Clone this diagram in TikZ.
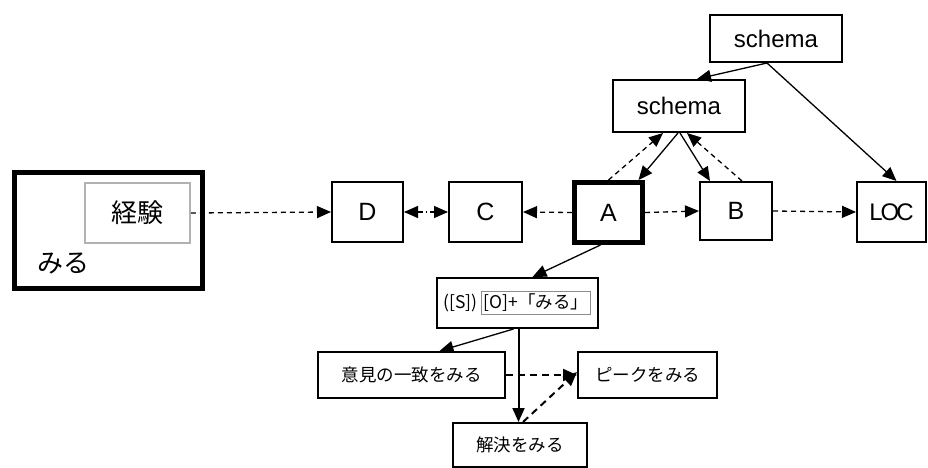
\documentclass[tikz,border=0pt]{standalone}
\usepackage{fontspec}
\setmainfont{Liberation Sans}
\newfontfamily\cjk{Noto Sans CJK JP}
\usetikzlibrary{arrows.meta}
\tikzset{
  box/.style={draw, line width=2pt, rectangle, inner sep=0pt, fill=white},
  thickbox/.style={box, line width=5pt},
  greybox/.style={draw=black!30, line width=1.8pt, rectangle, inner sep=0pt},
  latin/.style={font=\fontsize{25}{28}\selectfont},
  jsmall/.style={font=\cjk\fontsize{17.5}{20}\selectfont},
  tip/.style={-{Triangle[length=14pt,width=12pt]}},
  solidarrow/.style={tip, line width=1.3pt},
  dasharrow/.style={tip, line width=1.3pt, dash pattern=on 5pt off 4pt},
  dashdotarrow/.style={{Triangle[length=14pt,width=12pt]}-{Triangle[length=14pt,width=12pt]}, line width=1.3pt, dash pattern=on 5pt off 3pt on 1.5pt off 3pt},
  boldarrow/.style={tip, line width=2pt, dash pattern=on 7pt off 5pt},
}
\begin{document}
\begin{tikzpicture}[x=1pt,y=-1pt]
\useasboundingbox (0,0) rectangle (928,468);
% big box
\node[thickbox, minimum width=188pt, minimum height=116pt] (big) at (108.5,230.5) {};
\node[greybox, minimum width=105pt, minimum height=60pt, font=\cjk\fontsize{26}{30}\selectfont] (exp) at (137.5,213) {経験};
\node[font=\cjk\fontsize{26}{30}\selectfont] (miru) at (63,263) {みる};
% middle row
\node[box, latin, minimum width=71pt, minimum height=60pt] (D) at (367.5,212) {D};
\node[box, latin, minimum width=73pt, minimum height=60pt] (C) at (485.5,212) {C};
\node[thickbox, latin, minimum width=68pt, minimum height=60pt] (A) at (608.5,212.5) {A};
\node[box, latin, minimum width=72pt, minimum height=58pt] (B) at (736,211) {B};
\node[box, font=\fontsize{24}{28}\selectfont, minimum width=69pt, minimum height=60pt] (LOC) at (891.5,212) {L\kern-2ptO\kern-3ptC};
% schema
\node[box, font=\fontsize{24}{28}\selectfont, minimum width=132pt, minimum height=47pt] (s1) at (776,38.5) {schema};
\node[box, font=\fontsize{24}{28}\selectfont, minimum width=132pt, minimum height=52pt] (s2) at (679,106) {schema};
% bottom
\node[box, jsmall, minimum width=161pt, minimum height=50pt] (SO) at (517.5,303)
  {([S])\,{\color{black!45}\setlength{\fboxrule}{1.2pt}\setlength{\fboxsep}{2pt}\fbox{\color{black}[O]+「みる」}}};
\node[box, jsmall, minimum width=187pt, minimum height=46pt] (iken) at (411.5,375) {意見の一致をみる};
\node[box, jsmall, minimum width=139pt, minimum height=46pt] (peak) at (647.5,375) {ピークをみる};
\node[box, jsmall, minimum width=134pt, minimum height=44pt] (kai) at (520,445) {解決をみる};
% connectors
\draw[dasharrow] (exp.east) -- (D.west);
\draw[dashdotarrow] (D.east) -- (C.west);
\draw[dasharrow] (A.west) -- (C.east);
\draw[dasharrow] (A.east) -- (B.west);
\draw[dasharrow] (B.east) -- (LOC.west);
\draw[solidarrow] ([xshift=-9pt]s1.south) -- ([xshift=18pt]s2.north);
\draw[solidarrow] ([xshift=-9pt]s1.south) -- ([xshift=5pt]LOC.north);
\draw[solidarrow] ([xshift=-1pt]s2.south) -- ([xshift=30pt]A.north);
\draw[dasharrow] ([xshift=0pt]A.north) -- ([xshift=-16pt]s2.south);
\draw[solidarrow] ([xshift=1pt]s2.south) -- ([xshift=-26pt]B.north);
\draw[dasharrow] ([xshift=6pt]B.north) -- ([xshift=8pt]s2.south);
\draw[solidarrow] ([xshift=-8pt]A.south) -- ([xshift=15pt]SO.north);
\draw[solidarrow] ([xshift=-4pt]SO.south) -- ([xshift=28pt]iken.north);
\draw[tip, line width=2pt] ([xshift=1pt]SO.south) -- ([xshift=-1.5pt]kai.north);
\draw[boldarrow] (iken.east) -- (peak.west);
\draw[boldarrow] ([xshift=3pt]kai.north) -- ([yshift=3pt]peak.west);
\end{tikzpicture}
\end{document}
